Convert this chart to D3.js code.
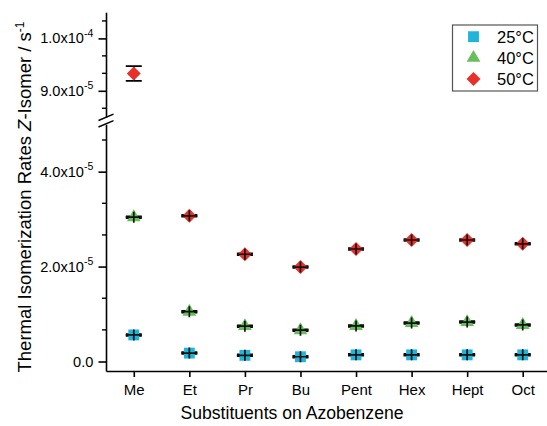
<!DOCTYPE html>
<html>
<head>
<meta charset="utf-8">
<script src="https://cdn.jsdelivr.net/npm/d3@7"></script>
<style>
  body { margin: 0; background: #fff; }
  text { font-family: "Liberation Sans", Arial, sans-serif; fill: #000; }
</style>
</head>
<body>
<div id="chart"></div>
<script>
// categories on the x axis
var categories = ["Me", "Et", "Pr", "Bu", "Pent", "Hex", "Hept", "Oct"];

// rates (s^-1) per temperature
var rate25 = [0.56e-5, 0.177e-5, 0.13e-5, 0.10e-5, 0.14e-5, 0.14e-5, 0.14e-5, 0.14e-5];
var rate40 = [3.04e-5, 1.05e-5, 0.745e-5, 0.66e-5, 0.75e-5, 0.81e-5, 0.83e-5, 0.77e-5];
var rate50 = [9.33e-5, 3.07e-5, 2.26e-5, 1.99e-5, 2.37e-5, 2.56e-5, 2.56e-5, 2.48e-5];

// error bars
var err25 = [0.02e-5, 0.02e-5, 0.02e-5, 0.02e-5, 0.02e-5, 0.02e-5, 0.02e-5, 0.02e-5];
var err40 = [0.02e-5, 0.02e-5, 0.02e-5, 0.02e-5, 0.02e-5, 0.02e-5, 0.02e-5, 0.02e-5];
var err50 = [0.14e-5, 0.02e-5, 0.02e-5, 0.02e-5, 0.02e-5, 0.02e-5, 0.02e-5, 0.02e-5];

var seriesNames = ["25\u00b0C", "40\u00b0C", "50\u00b0C"];

// y tick labels of both axis segments
var lowerTicks = [0, 2e-5, 4e-5];
var upperTicks = [9e-5, 1e-4];

var width = 547, height = 426;

var svg = d3.select("#chart")
    .append("svg")
    .attr("width", width)
    .attr("height", height);

var x = d3.scalePoint()
    .domain(categories)
    .range([106, 550.5])
    .padding(0.5);

// broken y axis: two segments
var yLow = d3.scaleLinear().domain([-0.2e-5, 5e-5]).range([371, 124.2]);
var yHigh = d3.scaleLinear().domain([8.5e-5, 1.05e-4]).range([117, 12.2]);
function y(v) { return v >= 8.5e-5 ? yHigh(v) : yLow(v); }

var colors = ["#1fb4d8", "#67be5c", "#e8312b"];
var symbols = [
    { type: d3.symbolSquare, size: 118, rotate: 0 },
    { type: d3.symbolTriangle, size: 82, rotate: 0 },
    { type: d3.symbolSquare, size: 98, rotate: 45 }
];

// x axis
var xAxis = svg.append("g")
    .attr("transform", "translate(0,371)")
    .call(d3.axisBottom(x).tickSize(6).tickSizeOuter(0).tickPadding(7));
xAxis.select(".domain").attr("stroke-width", 1.6);
xAxis.selectAll(".tick line").attr("stroke-width", 1.6);
xAxis.selectAll(".tick text")
    .attr("font-size", 15)
    .style("font-family", "Liberation Sans, Arial, sans-serif")
    .style("font-size", "15px");

// y axis segments
function drawSegment(scale, major, minor) {
    var g = svg.append("g").attr("transform", "translate(106,0)");
    g.call(d3.axisLeft(scale).tickValues(major).tickSize(7.5).tickSizeOuter(0).tickFormat(""));
    g.select(".domain").attr("stroke-width", 1.6);
    g.selectAll(".tick line").attr("stroke-width", 1.6);
    g.selectAll(".minor")
        .data(minor)
        .enter().append("line")
        .attr("x1", -4).attr("x2", 0)
        .attr("y1", function (d) { return scale(d); })
        .attr("y2", function (d) { return scale(d); })
        .attr("stroke", "#000")
        .attr("stroke-width", 1.4);
    // labels with superscript exponent
    var lab = g.selectAll(".lab")
        .data(major)
        .enter().append("text")
        .attr("x", -12.7)
        .attr("y", function (d) { return scale(d) + 5; })
        .attr("text-anchor", "end")
        .attr("font-size", 14.6)
        .style("font-size", "14.6px");
    lab.each(function (d) {
        var t = d3.select(this);
        if (d === 0) { t.text("0.0"); return; }
        var e = Math.floor(Math.log10(d) + 1e-9);
        var m = d / Math.pow(10, e);
        t.append("tspan").text(m.toFixed(1) + "x10");
        t.append("tspan").attr("dy", -6.5).style("font-size", "10.5px").text(e);
    });
}
drawSegment(yLow, lowerTicks,
    [2 / 3, 4 / 3, 8 / 3, 10 / 3, 14 / 3].map(function (d) { return d * 1e-5; }));
drawSegment(yHigh, upperTicks,
    [26 / 3, 28 / 3, 29 / 3, 31 / 3].map(function (d) { return d * 1e-5; }));

// break marks
svg.selectAll(".brk")
    .data([0, 6.5])
    .enter().append("line")
    .attr("x1", 98.5).attr("x2", 113.5)
    .attr("y1", function (d) { return 120.5 + d; })
    .attr("y2", function (d) { return 114.2 + d; })
    .attr("stroke", "#000")
    .attr("stroke-width", 1.4);

// points
var series = [rate25, rate40, rate50];
var errs = [err25, err40, err50];

series.forEach(function (vals, si) {
    var pts = vals.map(function (v, i) {
        return { cat: categories[i], v: v, e: errs[si][i] };
    });
    var g = svg.append("g");
    var pg = g.selectAll("g")
        .data(pts)
        .enter().append("g")
        .attr("transform", function (d) { return "translate(" + x(d.cat) + ",0)"; });

    // error bars behind the symbol
    pg.append("path")
        .attr("d", function (d) {
            var t = y(d.v + d.e), b = y(d.v - d.e);
            return "M-8," + t + "H8M-8," + b + "H8M0," + t + "V" + b;
        })
        .attr("stroke", "#000")
        .attr("stroke-width", 1.6)
        .attr("fill", "none");

    pg.append("path")
        .attr("d", d3.symbol().type(symbols[si].type).size(symbols[si].size))
        .attr("transform", function (d) {
            return "translate(0," + y(d.v) + ") rotate(" + symbols[si].rotate + ")";
        })
        .attr("fill", colors[si]);

    // tiny error bars show up as a cross on top of the symbol
    pg.filter(function (d) { return Math.abs(y(d.v - d.e) - y(d.v + d.e)) < 4; })
        .append("path")
        .attr("d", function (d) {
            var c = y(d.v);
            return "M-8," + c + "H8M0," + (c - 5.5) + "V" + (c + 5.5);
        })
        .attr("stroke", "#111")
        .attr("stroke-width", 1.7)
        .attr("fill", "none");
});

// axis titles
svg.append("text")
    .attr("x", 292)
    .attr("y", 419)
    .attr("text-anchor", "middle")
    .style("font-size", "17.6px")
    .text("Substituents on Azobenzene");

var yt = svg.append("text")
    .attr("transform", "translate(31,197) rotate(-90)")
    .attr("text-anchor", "middle")
    .style("font-size", "18.5px");
yt.append("tspan").text("Thermal Isomerization Rates ");
yt.append("tspan").style("font-style", "italic").text("Z");
yt.append("tspan").text("-Isomer / s");
yt.append("tspan").attr("dy", -7.5).style("font-size", "12px").text("-1");

// legend
var legend = svg.append("g").attr("transform", "translate(452.5,25)");
legend.append("rect")
    .attr("width", 85).attr("height", 66)
    .attr("fill", "#fff")
    .attr("stroke", "#555")
    .attr("stroke-width", 1.2);
var li = legend.selectAll(".li")
    .data(seriesNames)
    .enter().append("g")
    .attr("transform", function (d, i) { return "translate(0," + (11.7 + i * 21.2) + ")"; });
li.append("path")
    .attr("d", function (d, i) { return d3.symbol().type(symbols[i].type).size(symbols[i].size)(); })
    .attr("transform", function (d, i) { return "translate(21,0) rotate(" + symbols[i].rotate + ")"; })
    .attr("fill", function (d, i) { return colors[i]; });
li.append("text")
    .attr("x", 44.5)
    .attr("y", 6)
    .style("font-size", "16.5px")
    .text(function (d) { return d; });
</script>
</body>
</html>
